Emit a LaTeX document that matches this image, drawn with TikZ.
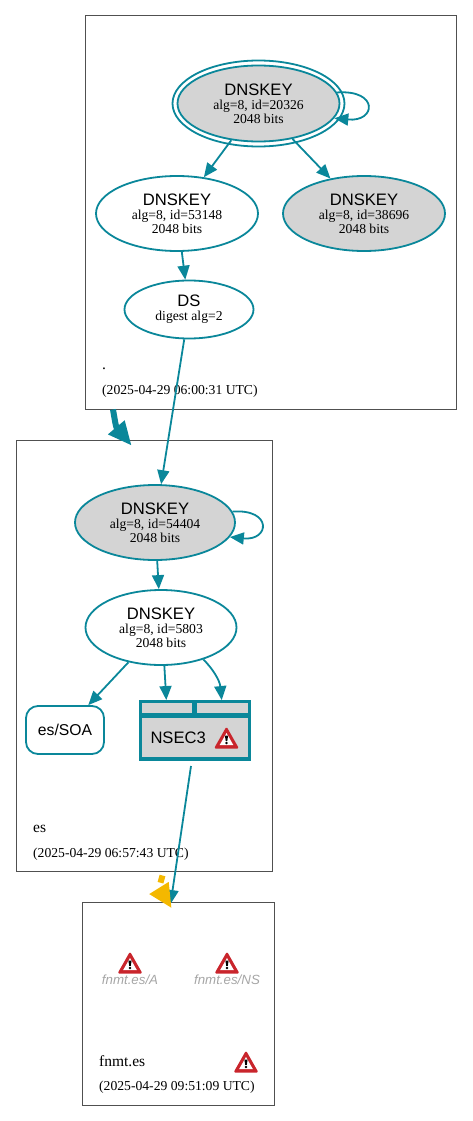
\documentclass[tikz,border=0pt]{standalone}
\usepackage{fontspec}
\setmainfont{Liberation Serif}
\setsansfont{Liberation Sans}
\usepackage{tikz}
\usetikzlibrary{shapes.geometric,arrows.meta,positioning,calc}
\definecolor{dnsteal}{HTML}{0A879A}
\definecolor{warnamber}{HTML}{F4B800}
\definecolor{warnred}{HTML}{C9252C}
\definecolor{zonegray}{HTML}{505050}
\newcommand{\keyname}[1]{{\fontsize{16.6}{14}\sffamily #1}}

\begin{document}
\begin{tikzpicture}[x=1pt,y=-1pt,
  font=\fontsize{13.65}{14}\selectfont,
  zone/.style={draw=zonegray,line width=0.8pt,inner sep=0pt},
  key/.style={draw=dnsteal,ellipse,line width=1.8pt,align=center,inner sep=0pt,fill=white},
  sep/.style={key,fill=black!17},
  cell/.style={fill=black!17,inner sep=0pt},
  arr/.style={draw=dnsteal,line width=1.8pt,-{Triangle[length=14pt,width=12pt]}},
  zonelab/.style={anchor=west,inner sep=0pt,font=\fontsize{15.5}{14}\selectfont},
  datelab/.style={anchor=west,inner sep=0pt},
  missing/.style={font=\fontsize{13.3}{14}\sffamily\itshape,text=black!35,inner sep=0pt},
  warn/.pic={
    \fill[warnred,rounded corners=1.5pt] (-12.5,10.5) -- (0,-11.5) -- (12.5,10.5) -- cycle;
    \fill[white] (-6.8,7) -- (0,-5) -- (6.8,7) -- cycle;
    \fill[black] (-1.6,-2.5) -- (1.6,-2.5) -- (0.8,2.8) -- (-0.8,2.8) -- cycle;
    \fill[black] (0,5) circle (1.4);
  }]
\useasboundingbox (0,0) rectangle (472,1121);
% ---------- Zone boxes ----------
\node[zone,minimum width=370.5pt,minimum height=394pt] (rootzone) at (270.75,212.5) {};
\node[zone,minimum width=256pt,minimum height=431pt] (eszone) at (144,656) {};
\node[zone,minimum width=192pt,minimum height=202.5pt] (fnmtzone) at (178.5,1003.75) {};
% ---------- Root zone ----------
\draw[draw=dnsteal,fill=white,line width=1.8pt] (258.5,103.5) ellipse (86 and 43);
\node[sep,minimum width=162pt,minimum height=76pt] (key20326) at (258.5,103.5) {\keyname{DNSKEY}\\alg=8, id=20326\\2048 bits};
\node[key,minimum width=162pt,minimum height=75pt] (key53148) at (177,213.5) {\keyname{DNSKEY}\\alg=8, id=53148\\2048 bits};
\node[sep,minimum width=162pt,minimum height=75pt] (key38696) at (364,213.5) {\keyname{DNSKEY}\\alg=8, id=38696\\2048 bits};
\node[key,minimum width=129pt,minimum height=58pt] (ds) at (189,309.5) {\keyname{DS}\\digest alg=2};
\node[zonelab] (rootname) at (102,369) {.};
\node[datelab] (rootdate) at (102,391) {(2025-04-29 06:00:31 UTC)};
\draw[arr] (key20326.8) .. controls +(42,-3) and +(42,4) .. (key20326.-11);
\draw[arr] (key20326) -- (key53148);
\draw[arr] (key20326) -- (key38696);
\draw[arr] (key53148) -- (ds);
% ---------- es zone ----------
\node[sep,minimum width=160pt,minimum height=75pt] (key54404) at (155,522.5) {\keyname{DNSKEY}\\alg=8, id=54404\\2048 bits};
\node[key,minimum width=151pt,minimum height=75pt] (key5803) at (161,627.5) {\keyname{DNSKEY}\\alg=8, id=5803\\2048 bits};
\node[draw=dnsteal,line width=1.8pt,rounded corners=12pt,minimum width=78pt,minimum height=48pt,inner sep=0pt,font=\fontsize{15.7}{14}\sffamily] (soa) at (65,730) {es/SOA};
\node[fill=dnsteal,minimum width=112pt,minimum height=60.5pt,inner sep=0pt] (nsec) at (194.5,730.5) {};
\node[cell,minimum width=50.5pt,minimum height=10pt] (nsecleft) at (167,707.7) {};
\node[cell,minimum width=51pt,minimum height=10pt] (nsecright) at (222.8,707.7) {};
\node[cell,minimum width=106.6pt,minimum height=39.6pt,font=\fontsize{16.6}{14}\sffamily,text width=98pt] (nsecbody) at (195,737.5) {\hspace*{4.5pt}NSEC3};
\pic at (226.5,738) {warn};
\node[zonelab] (esname) at (33,828.5) {es};
\node[datelab] (esdate) at (33,854) {(2025-04-29 06:57:43 UTC)};
\draw[arr] (ds) -- (key54404);
\draw[arr] (key54404.8) .. controls +(40,-3) and +(40,4) .. (key54404.-11);
\draw[arr] (key54404) -- (key5803);
\draw[arr] (key5803) -- (soa);
\draw[arr] (key5803.-85) -- ($(nsec.north west)+(28,0)$);
\draw[arr] (key5803.-37) .. controls +(9,9) and +(-2,-20) .. ($(nsec.north east)+(-29,0)$);
% ---------- fnmt.es zone ----------
\pic at (130,963) {warn};
\pic at (227,963) {warn};
\node[missing] (fnmta) at (130,980) {fnmt.es/A};
\node[missing] (fnmtns) at (227,980) {fnmt.es/NS};
\node[zonelab] (fnmtname) at (99,1061) {fnmt.es};
\pic at (246,1062) {warn};
\node[datelab] (fnmtdate) at (99,1087) {(2025-04-29 09:51:09 UTC)};
% ---------- Links between zones ----------
\coordinate (linkfrom) at (113,409.5);
\coordinate (linkto) at (131.7,445.7);
\coordinate (dsfrom) at (191,766);
\coordinate (dsto) at (170.5,904);
\coordinate (warnfrom) at (162.5,875.5);
\coordinate (warnto) at (171.7,908.3);
\draw[dnsteal,line width=6pt,-{Triangle[length=24pt,width=20pt]}] (linkfrom) .. controls (116,427) .. (linkto);
\draw[arr] (dsfrom) -- (dsto);
\draw[warnamber,line width=6pt,dash pattern=on 7.5pt off 11pt,-{Triangle[length=24pt,width=21pt]}] (warnfrom) .. controls (159,888) .. (warnto);
\end{tikzpicture}
\end{document}
